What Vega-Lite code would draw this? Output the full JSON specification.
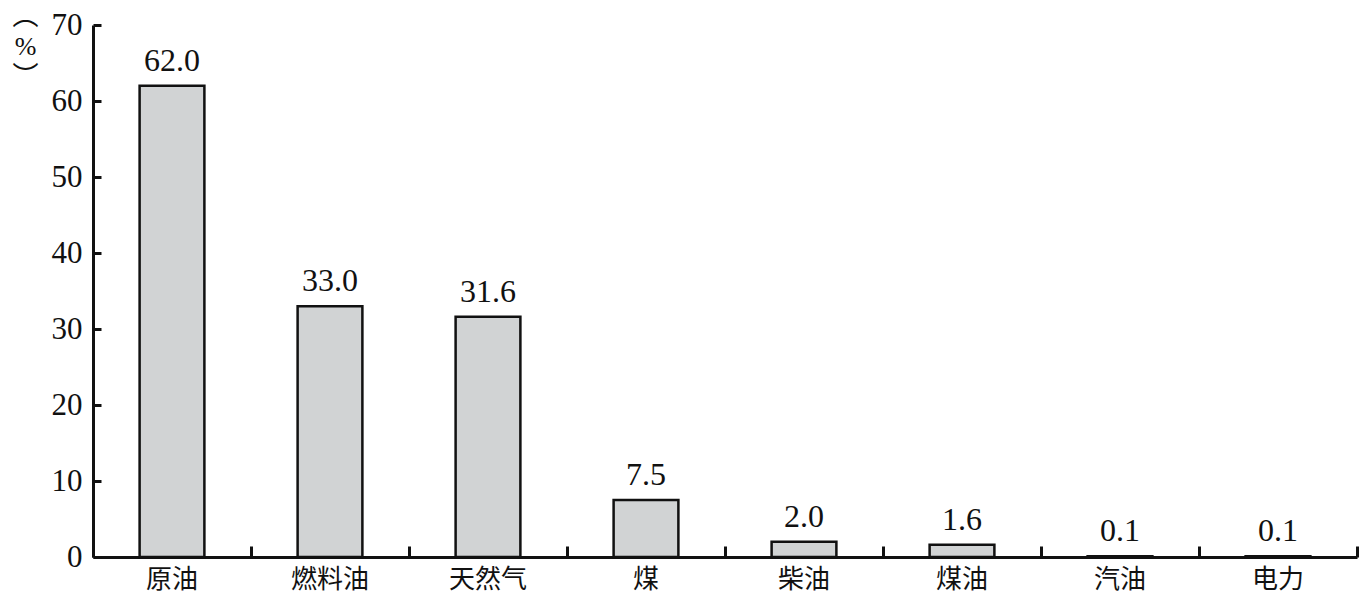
{
  "$schema": "https://vega.github.io/schema/vega-lite/v6.json",
  "width": 1264,
  "height": 532,
  "autosize": {"type": "none"},
  "padding": {"left": 93, "top": 25, "right": 12, "bottom": 46},
  "background": "white",
  "config": {"view": {"stroke": null}},
  "data": {"values": [
    {"cat": "原油", "v": 62.0},
    {"cat": "燃料油", "v": 33.0},
    {"cat": "天然气", "v": 31.6},
    {"cat": "煤", "v": 7.5},
    {"cat": "柴油", "v": 2.0},
    {"cat": "煤油", "v": 1.6},
    {"cat": "汽油", "v": 0.1},
    {"cat": "电力", "v": 0.1}
  ]},
  "layer": [
    {
      "mark": {"type": "bar", "opacity": 0},
      "encoding": {
        "x": {"field": "cat", "type": "nominal", "sort": null,
          "scale": {"paddingInner": 0, "paddingOuter": 0},
          "axis": {"orient": "bottom", "title": null, "labels": false, "domain": false,
            "tickColor": "#111", "tickWidth": 3, "tickSize": -11, "tickBand": "extent"}},
        "y": {"field": "v", "type": "quantitative", "scale": {"domain": [0, 70], "nice": false},
          "axis": {"values": [0,10,20,30,40,50,60,70], "grid": false,
            "labelFont": "Liberation Serif", "labelFontSize": 31, "labelColor": "#111", "labelPadding": 19,
            "domainColor": "#111", "domainWidth": 3, "tickColor": "#111", "tickWidth": 3, "tickSize": -8,
            "title": ["︵", "%", "︶"], "titleAngle": 0, "titleFont": "Liberation Serif, Noto Sans CJK SC", "titleFontSize": 26, "titleFontWeight": "normal",
            "titleColor": "#111", "titleX": -68, "titleY": -22, "titleAlign": "center", "titleBaseline": "top", "titleLineHeight": 30}}
      }
    },
    {
      "encoding": {
        "x": {"field": "cat", "type": "nominal", "sort": null,
          "scale": {"paddingInner": 0.59, "paddingOuter": 0.295},
          "axis": {"orient": "bottom", "title": null, "labelAngle": 0, "labelFont": "Noto Sans CJK SC", "labelFontSize": 26, "labelColor": "#111",
            "domainColor": "#111", "domainWidth": 3, "ticks": false, "labelPadding": 9}},
        "y": {"field": "v", "type": "quantitative", "scale": {"domain": [0, 70], "nice": false}}
      },
      "layer": [
        {"mark": {"type": "bar", "fill": "#d1d3d4", "stroke": "#111", "strokeWidth": 2.5}},
        {"mark": {"type": "text", "baseline": "alphabetic", "dy": -15, "font": "Liberation Serif", "fontSize": 32, "color": "#111"},
         "encoding": {"text": {"field": "v", "type": "quantitative", "format": ".1f"}}}
      ]
    }
  ],
  "resolve": {"scale": {"x": "independent"}, "axis": {"x": "independent"}}
}
